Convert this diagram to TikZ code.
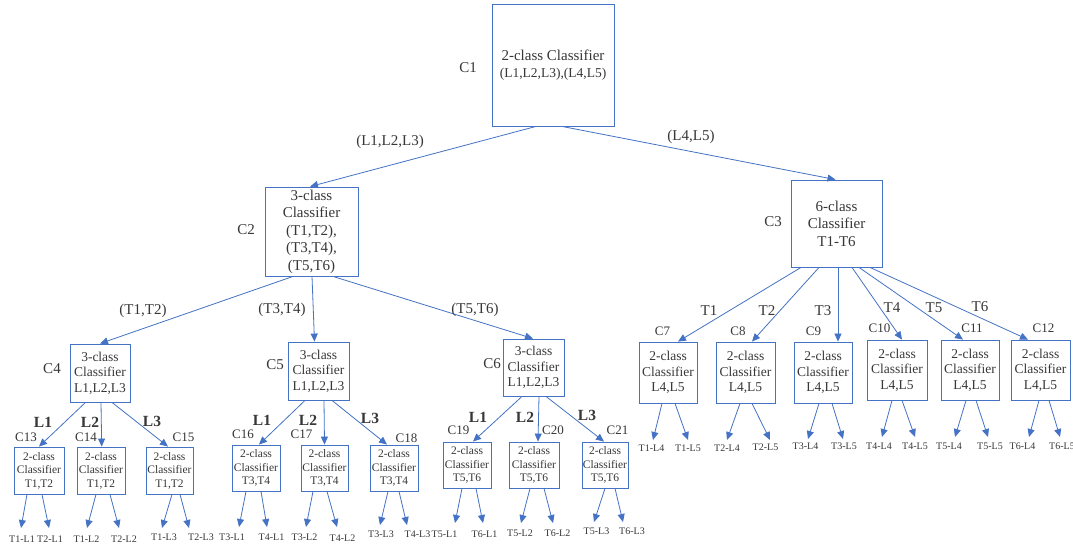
\documentclass[tikz,border=0pt]{standalone}
\usepackage{fontspec}
\setmainfont{Liberation Serif}
\usetikzlibrary{arrows.meta}
\definecolor{linec}{RGB}{68,114,196}
\definecolor{txtc}{RGB}{55,55,55}
\tikzset{
 box/.style={draw=linec, line width=0.85pt, align=center, inner sep=0pt, text=txtc},
 big/.style={font=\fontsize{15}{17.5}\selectfont},
 mid/.style={font=\fontsize{13.5}{15.5}\selectfont},
 sml/.style={font=\fontsize{11.5}{13.5}\selectfont},
 conn/.style={draw=linec, line width=0.8pt, -{Triangle[length=8pt,width=7pt]}},
 lbl/.style={text=txtc, inner sep=0pt, font=\fontsize{15}{17}\selectfont},
 clbl/.style={text=txtc, inner sep=0pt, font=\fontsize{13}{15}\selectfont},
 leaf/.style={text=txtc, inner sep=0pt, font=\fontsize{10}{12}\selectfont},
 llab/.style={text=txtc, inner sep=0pt, font=\fontsize{15.5}{17}\selectfont\bfseries},
}
\newcommand\twoleaf[6]{%
 \coordinate (#1a) at (#3,#6);
 \coordinate (#1b) at (#5,#6);
 \draw[conn] ([xshift=#2]#1.south) -- (#1a);
 \draw[conn] ([xshift=#4]#1.south) -- (#1b);}
\begin{document}
\begin{tikzpicture}[x=1pt,y=-1pt]
\useasboundingbox (0,0) rectangle (1073,548);
\fill[white] (0,0) rectangle (1073,548);

% main nodes
\node[box, font=\fontsize{13.5}{17}\selectfont, minimum width=122pt, minimum height=122pt] (c1) at (553,65)
 {{\fontsize{15}{17}\selectfont 2-class Classifier}\\(L1,L2,L3),(L4,L5)};
\node[box,big,minimum width=93pt,minimum height=89pt] (c2) at (311.5,231.5)
 {3-class\\Classifier\\(T1,T2),\\(T3,T4),\\(T5,T6)};
\node[box,big,minimum width=91pt,minimum height=87pt] (c3) at (836.5,223.5)
 {6-class\\Classifier\\T1-T6};

\node[box,mid,minimum width=60pt,minimum height=58pt] (c4) at (100,373) {3-class\\Classifier\\L1,L2,L3};
\node[box,mid,minimum width=61pt,minimum height=58pt] (c5) at (318.5,371) {3-class\\Classifier\\L1,L2,L3};
\node[box,mid,minimum width=61pt,minimum height=57pt] (c6) at (533.5,367.5) {3-class\\Classifier\\L1,L2,L3};

\node[box,mid,minimum width=58pt,minimum height=61pt] (c7) at (668,372.5) {2-class\\Classifier\\L4,L5};
\node[box,mid,minimum width=59pt,minimum height=61pt] (c8) at (745.5,372.5) {2-class\\Classifier\\L4,L5};
\node[box,mid,minimum width=58pt,minimum height=61pt] (c9) at (823,372.5) {2-class\\Classifier\\L4,L5};
\node[box,mid,minimum width=60pt,minimum height=60pt] (c10) at (897,370) {2-class\\Classifier\\L4,L5};
\node[box,mid,minimum width=58pt,minimum height=60pt] (c11) at (970,370) {2-class\\Classifier\\L4,L5};
\node[box,mid,minimum width=59pt,minimum height=60pt] (c12) at (1040.5,370) {2-class\\Classifier\\L4,L5};

\node[box,sml,minimum width=50pt,minimum height=47pt] (c13) at (39,470.5) {2-class\\Classifier\\T1,T2};
\node[box,sml,minimum width=48pt,minimum height=47pt] (c14) at (101,470.5) {2-class\\Classifier\\T1,T2};
\node[box,sml,minimum width=47pt,minimum height=47pt] (c15) at (169.5,470.5) {2-class\\Classifier\\T1,T2};
\node[box,sml,minimum width=48pt,minimum height=46pt] (c16) at (256,468) {2-class\\Classifier\\T3,T4};
\node[box,sml,minimum width=47pt,minimum height=46pt] (c17) at (324.5,468) {2-class\\Classifier\\T3,T4};
\node[box,sml,minimum width=48pt,minimum height=46pt] (c18) at (394,468) {2-class\\Classifier\\T3,T4};
\node[box,sml,minimum width=48pt,minimum height=46pt] (c19) at (467,465) {2-class\\Classifier\\T5,T6};
\node[box,sml,minimum width=50pt,minimum height=46pt] (c20) at (534,465) {2-class\\Classifier\\T5,T6};
\node[box,sml,minimum width=46pt,minimum height=46pt] (c21) at (605,465) {2-class\\Classifier\\T5,T6};

% node labels
\node[lbl] (n1) at (468,68) {C1};
\node[lbl] (n2) at (246,230) {C2};
\node[lbl] (n3) at (773,222) {C3};
\node[lbl] (n4) at (52,369) {C4};
\node[lbl] (n5) at (275,365) {C5};
\node[lbl] (n6) at (492,364) {C6};
\node[clbl] (n7) at (662.5,331) {C7};
\node[clbl] (n8) at (738,331) {C8};
\node[clbl] (n9) at (813.5,331) {C9};
\node[clbl] (n10) at (879.5,328) {C10};
\node[clbl] (n11) at (972,328) {C11};
\node[clbl] (n12) at (1043.5,328) {C12};
\node[clbl] (n13) at (26,437) {C13};
\node[clbl] (n14) at (86,437) {C14};
\node[clbl] (n15) at (183.5,437) {C15};
\node[clbl] (n16) at (243,434) {C16};
\node[clbl] (n17) at (301.5,434) {C17};
\node[clbl] (n18) at (406.5,438) {C18};
\node[clbl] (n19) at (458.5,430) {C19};
\node[clbl] (n20) at (553,430) {C20};
\node[clbl] (n21) at (617.5,430) {C21};

% top connectors
\draw[conn] ([xshift=-17pt]c1.south) -- ([xshift=-1.5pt]c2.north);
\draw[conn] ([xshift=9pt]c1.south) -- ([xshift=-1pt]c3.north);
\node[lbl] (e1) at (390,142) {(L1,L2,L3)};
\node[lbl] (e2) at (691,137) {(L4,L5)};

\draw[conn] ([xshift=-18.5pt]c2.south) -- (c4.north);
\draw[conn] ([xshift=0.5pt]c2.south) -- ([xshift=-4pt]c5.north);
\draw[conn] ([xshift=21.5pt]c2.south) -- ([xshift=-0.5pt]c6.north);
\node[lbl] (e3) at (143,311) {(T1,T2)};
\node[lbl] (e4) at (282,310) {(T3,T4)};
\node[lbl] (e5) at (475,310) {(T5,T6)};

\draw[conn] ([xshift=-35.5pt]c3.south) -- ([xshift=10pt]c7.north);
\draw[conn] ([xshift=-17.5pt]c3.south) -- ([xshift=6.5pt]c8.north);
\draw[conn] ([xshift=1.5pt]c3.south) -- ([xshift=15pt]c9.north);
\draw[conn] ([xshift=15.5pt]c3.south) -- ([xshift=5pt]c10.north);
\draw[conn] ([xshift=22.5pt]c3.south) -- ([xshift=-7pt]c11.north);
\draw[conn] ([xshift=33.5pt]c3.south) -- ([xshift=-12.5pt]c12.north);
\node[lbl] (t1) at (709,311) {T1};
\node[lbl] (t2) at (767,311) {T2};
\node[lbl] (t3) at (823,311) {T3};
\node[lbl] (t4) at (892,308) {T4};
\node[lbl] (t5) at (934,308) {T5};
\node[lbl] (t6) at (980,307) {T6};

\draw[conn] ([xshift=-14.5pt]c4.south) -- (c13.north);
\draw[conn] ([xshift=1pt]c4.south) -- ([xshift=0.7pt]c14.north);
\draw[conn] ([xshift=12pt]c4.south) -- ([xshift=-1.5pt]c15.north);
\node[llab] (a1) at (43,422) {L1};
\node[llab] (a2) at (90,422) {L2};
\node[llab] (a3) at (152,421) {L3};

\draw[conn] ([xshift=-13.5pt]c5.south) -- ([xshift=3pt]c16.north);
\draw[conn] ([xshift=5.5pt]c5.south) -- (c17.north);
\draw[conn] ([xshift=13.5pt]c5.south) -- ([xshift=-7pt]c18.north);
\node[llab] (b1) at (262,420) {L1};
\node[llab] (b2) at (308,420) {L2};
\node[llab] (b3) at (370,418) {L3};

\draw[conn] ([xshift=-11.5pt]c6.south) -- ([xshift=6pt]c19.north);
\draw[conn] ([xshift=5.5pt]c6.south) -- ([xshift=4pt]c20.north);
\draw[conn] ([xshift=12.5pt]c6.south) -- ([xshift=-1pt]c21.north);
\node[llab] (d1) at (478,417) {L1};
\node[llab] (d2) at (525,417) {L2};
\node[llab] (d3) at (587,415) {L3};

% leaf arrows
\twoleaf{c13}{-12pt}{21}{3pt}{49}{528}
\twoleaf{c14}{-5pt}{87}{9pt}{119}{528}
\twoleaf{c15}{2.5pt}{162}{10.5pt}{189}{528}
\twoleaf{c16}{-10pt}{239}{5pt}{267}{527}
\twoleaf{c17}{-11.5pt}{306}{2.5pt}{337}{527}
\twoleaf{c18}{-6pt}{380}{5pt}{407}{525}
\twoleaf{c19}{-5pt}{455}{9pt}{483}{523}
\twoleaf{c20}{-4pt}{521}{10pt}{553}{523}
\twoleaf{c21}{0pt}{594}{10pt}{623}{522}
\twoleaf{c7}{-6pt}{653}{7pt}{688}{440}
\twoleaf{c8}{-5.5pt}{727}{6.5pt}{770}{440}
\twoleaf{c9}{-4pt}{808}{9pt}{843}{439}
\twoleaf{c10}{-5pt}{882}{5pt}{915}{437}
\twoleaf{c11}{-4pt}{955}{6pt}{988}{437}
\twoleaf{c12}{-1.5pt}{1029}{8.5pt}{1060}{437}

% leaf labels
\node[leaf] (t1l1) at (22,539) {T1-L1};
\node[leaf] (t2l1) at (50,539) {T2-L1};
\node[leaf] (t1l2) at (86.5,539) {T1-L2};
\node[leaf] (t2l2) at (124,539) {T2-L2};
\node[leaf] (t1l3) at (164,537) {T1-L3};
\node[leaf] (t2l3) at (201,537) {T2-L3};
\node[leaf] (t3l1) at (232,537) {T3-L1};
\node[leaf] (t4l1) at (271.5,537) {T4-L1};
\node[leaf] (t3l2) at (304.5,537) {T3-L2};
\node[leaf] (t4l2) at (342.5,538) {T4-L2};
\node[leaf] (t3l3) at (381,534) {T3-L3};
\node[leaf] (t4l3) at (417.5,534) {T4-L3};
\node[leaf] (t5l1) at (444.5,534) {T5-L1};
\node[leaf] (t6l1) at (484.5,534) {T6-L1};
\node[leaf] (t5l2) at (520,533) {T5-L2};
\node[leaf] (t6l2) at (557.5,533) {T6-L2};
\node[leaf] (t5l3) at (596.5,531) {T5-L3};
\node[leaf] (t6l3) at (632,531) {T6-L3};
\node[leaf] (t1l4) at (651.5,448) {T1-L4};
\node[leaf] (t1l5) at (688,448) {T1-L5};
\node[leaf] (t2l4) at (727,448) {T2-L4};
\node[leaf] (t2l5) at (765.5,447) {T2-L5};
\node[leaf] (t3l4) at (805.5,446) {T3-L4};
\node[leaf] (t3l5) at (844,446) {T3-L5};
\node[leaf] (t4l4) at (879,446) {T4-L4};
\node[leaf] (t4l5) at (915,446) {T4-L5};
\node[leaf] (t5l4) at (949,446) {T5-L4};
\node[leaf] (t5l5) at (990,446) {T5-L5};
\node[leaf] (t6l4) at (1022.5,446) {T6-L4};
\node[leaf] (t6l5) at (1062,446) {T6-L5};
\end{tikzpicture}
\end{document}
